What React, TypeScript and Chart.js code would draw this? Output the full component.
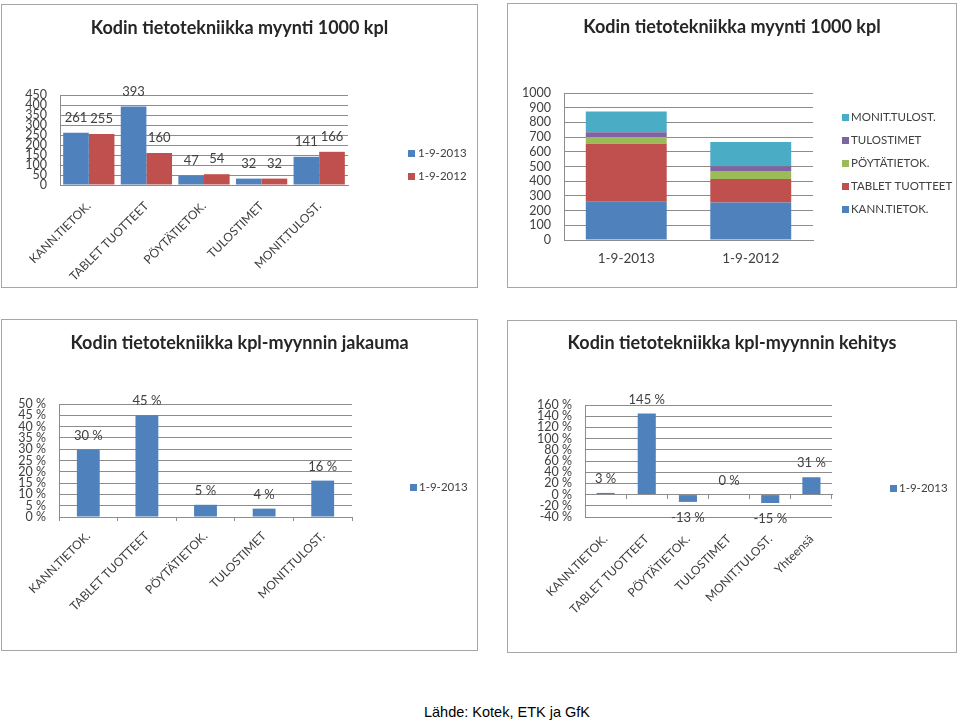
import React, { useEffect, useRef } from 'react';
import { Chart, registerables } from 'chart.js';

Chart.register(...registerables);

// ---------- data ----------
const categories = ['KANN.TIETOK.', 'TABLET TUOTTEET', 'PÖYTÄTIETOK.', 'TULOSTIMET', 'MONIT.TULOST.'];
const periods = ['1-9-2013', '1-9-2012'];
const sales2013 = [261, 393, 47, 32, 141];
const sales2012 = [255, 160, 54, 32, 166];
const shares2013 = [29.9, 45.0, 5.4, 3.7, 16.1];
const growthCategories = ['KANN.TIETOK.', 'TABLET TUOTTEET', 'PÖYTÄTIETOK.', 'TULOSTIMET', 'MONIT.TULOST.', 'Yhteensä'];
const growth2013 = [3, 145, -13, 0, -15, 31];

const salesTicks = [0, 50, 100, 150, 200, 250, 300, 350, 400, 450];
const stackTicks = [0, 100, 200, 300, 400, 500, 600, 700, 800, 900, 1000];
const shareTicks = [0, 5, 10, 15, 20, 25, 30, 35, 40, 45, 50];
const growthTicks = [-40, -20, 0, 20, 40, 60, 80, 100, 120, 140, 160];

const titleSales = 'Kodin tietotekniikka myynti 1000 kpl';
const titleShare = 'Kodin tietotekniikka kpl-myynnin jakauma';
const titleGrowth = 'Kodin tietotekniikka kpl-myynnin kehitys';
const sourceText = 'Lähde: Kotek, ETK ja GfK';

const palette = ['#4F81BD', '#C0504D', '#9BBB59', '#8064A2', '#4BACC6'];

// ---------- styling ----------
const FONT = 'Lato, "Open Sans", sans-serif';
const TEXT = '#404040';
const GRID = '#8c8c8c';

Chart.defaults.font.family = FONT;
Chart.defaults.color = TEXT;

// ---------- plugins ----------
const valueLabels = {
  id: 'valueLabels',
  afterDatasetsDraw(chart: any, _args: any, opts: any) {
    if (!opts || !opts.show) return;
    const ctx = chart.ctx;
    ctx.save();
    ctx.font = `${opts.size}px ${FONT}`;
    ctx.fillStyle = TEXT;
    ctx.textAlign = 'center';
    ctx.textBaseline = 'middle';
    chart.data.datasets.forEach((ds: any, di: number) => {
      const meta = chart.getDatasetMeta(di);
      meta.data.forEach((el: any, i: number) => {
        const v = ds.data[i];
        const txt = Math.round(v) + opts.suffix;
        const y = v >= 0 ? Math.min(el.y, el.base) - opts.above : Math.max(el.y, el.base) + opts.below;
        ctx.fillText(txt, el.x, y);
      });
    });
    ctx.restore();
  },
};

const sideLegend = {
  id: 'sideLegend',
  afterDraw(chart: any, _args: any, opts: any) {
    if (!opts || !opts.show) return;
    const ctx = chart.ctx;
    const items = chart.data.datasets.map((ds: any) => ({ text: ds.label, color: ds.backgroundColor }));
    if (opts.reverse) items.reverse();
    ctx.save();
    ctx.font = `${opts.size}px ${FONT}`;
    ctx.textAlign = 'left';
    ctx.textBaseline = 'middle';
    items.forEach((it: any, k: number) => {
      const cy = opts.y + k * opts.gap;
      ctx.fillStyle = it.color;
      ctx.fillRect(opts.x, Math.round(cy - opts.box / 2), opts.box, opts.box);
      ctx.fillStyle = TEXT;
      ctx.fillText(it.text, opts.textX, cy);
    });
    ctx.restore();
  },
};

// ---------- config builder ----------
type Geo = { w: number; h: number; left: number; right: number; top: number; bottom: number };

function buildConfig(p: {
  geo: Geo;
  title: string;
  titleY: number;
  labels: string[];
  datasets: any[];
  yTicks: number[];
  ySuffix: string;
  stacked?: boolean;
  rotate: number;
  xPad: number;
  xTickMarks: boolean;
  zeroAxis?: boolean;
  legend: any;
  values?: any;
}) {
  const { geo } = p;
  const lh = 18 * 1.2;
  const tTop = p.titleY - lh / 2;
  const scales: any = {
    x: {
      stacked: !!p.stacked,
      offset: true,
      afterFit: (s: any) => { s.height = geo.h - geo.bottom; },
      ticks: {
        autoSkip: false,
        minRotation: p.rotate,
        maxRotation: p.rotate,
        padding: p.xPad,
        font: { size: p.rotate ? 12 : 13.5 },
        color: TEXT,
      },
      grid: {
        offset: true,
        drawOnChartArea: false,
        drawTicks: p.xTickMarks,
        tickLength: 4,
        color: GRID,
      },
      border: { display: !p.zeroAxis, color: GRID },
    },
    y: {
      stacked: !!p.stacked,
      min: p.yTicks[0],
      max: p.yTicks[p.yTicks.length - 1],
      afterBuildTicks: (s: any) => { s.ticks = p.yTicks.map((v) => ({ value: v })); },
      afterFit: (s: any) => { s.width = geo.left; },
      ticks: {
        autoSkip: false,
        padding: 13,
        font: { size: 12.5 },
        color: TEXT,
        callback: (v: any) => v + p.ySuffix,
      },
      grid: { color: GRID, drawTicks: false },
      border: { color: GRID },
    },
    // empty space on the right that holds the legend, so the title stays centred on the box
    legendSpace: {
      type: 'linear',
      position: 'right',
      afterFit: (s: any) => { s.width = geo.w - geo.right; },
      ticks: { display: false },
      grid: { display: false },
      border: { display: false },
    },
  };
  if (p.zeroAxis) {
    scales.x0 = {
      type: 'category',
      position: { y: 0 },
      offset: true,
      ticks: { display: false },
      grid: { offset: true, drawOnChartArea: false, drawTicks: true, tickLength: 4, color: GRID },
      border: { display: true, color: GRID },
    };
  }
  return {
    type: 'bar',
    data: { labels: p.labels, datasets: p.datasets },
    plugins: [valueLabels, sideLegend],
    options: {
      responsive: false,
      animation: false,
      devicePixelRatio: 1,
      layout: { padding: 0 },
      scales,
      plugins: {
        legend: { display: false },
        tooltip: { enabled: false },
        title: {
          display: true,
          text: p.title,
          color: '#262626',
          font: { size: 18, weight: 'bold', lineHeight: 1.2 },
          padding: { top: tTop, bottom: geo.top - tTop - lh },
        },
        valueLabels: p.values || { show: false },
        sideLegend: p.legend,
      },
    },
  };
}

// ---------- chart configs ----------
const geo1: Geo = { w: 477, h: 284, left: 59, right: 347, top: 91, bottom: 181 };
const config1 = buildConfig({
  geo: geo1,
  title: titleSales,
  titleY: 24,
  labels: categories,
  datasets: [
    { label: periods[0], data: sales2013, backgroundColor: palette[0], categoryPercentage: 0.89, barPercentage: 1 },
    { label: periods[1], data: sales2012, backgroundColor: palette[1], categoryPercentage: 0.89, barPercentage: 1 },
  ],
  yTicks: salesTicks,
  ySuffix: '',
  rotate: 45,
  xPad: 14,
  xTickMarks: false,
  legend: { show: true, x: 407, textX: 417, y: 149, gap: 23, box: 7, size: 11.5 },
  values: { show: true, size: 13, suffix: '', above: 15, below: 15 },
});

const geo2: Geo = { w: 450, h: 285, left: 57, right: 306, top: 90, bottom: 237 };
const config2 = buildConfig({
  geo: geo2,
  title: titleSales,
  titleY: 24,
  labels: periods,
  datasets: categories.map((c, i) => ({
    label: c,
    data: [sales2013[i], sales2012[i]],
    backgroundColor: palette[i],
    categoryPercentage: 0.65,
    barPercentage: 1,
  })),
  yTicks: stackTicks,
  ySuffix: '',
  stacked: true,
  rotate: 0,
  xPad: 11,
  xTickMarks: false,
  legend: { show: true, reverse: true, x: 335, textX: 344, y: 114, gap: 23, box: 7, size: 11.5 },
});

const geo3: Geo = { w: 477, h: 332, left: 58, right: 351, top: 85, bottom: 198 };
const config3 = buildConfig({
  geo: geo3,
  title: titleShare,
  titleY: 24,
  labels: categories,
  datasets: [
    { label: periods[0], data: shares2013, backgroundColor: palette[0], categoryPercentage: 1, barPercentage: 0.39 },
  ],
  yTicks: shareTicks,
  ySuffix: ' %',
  rotate: 45,
  xPad: 8,
  xTickMarks: true,
  legend: { show: true, x: 409, textX: 418, y: 168, gap: 23, box: 7, size: 11.5 },
  values: { show: true, size: 13, suffix: ' %', above: 14, below: 16 },
});

const geo4: Geo = { w: 450, h: 333, left: 78, right: 325, top: 85, bottom: 197 };
const config4 = buildConfig({
  geo: geo4,
  title: titleGrowth,
  titleY: 23,
  labels: growthCategories,
  datasets: [
    { label: periods[0], data: growth2013, backgroundColor: palette[0], categoryPercentage: 1, barPercentage: 0.44 },
  ],
  yTicks: growthTicks,
  ySuffix: ' %',
  rotate: 45,
  xPad: 15,
  xTickMarks: false,
  zeroAxis: true,
  legend: { show: true, x: 383, textX: 392, y: 168, gap: 23, box: 7, size: 11.5 },
  values: { show: true, size: 13, suffix: ' %', above: 14, below: 16 },
});

// ---------- components ----------
function ChartBox(props: { left: number; top: number; width: number; height: number; config: any }) {
  const ref = useRef<HTMLCanvasElement | null>(null);
  useEffect(() => {
    const chart = new Chart(ref.current as HTMLCanvasElement, props.config);
    return () => chart.destroy();
  }, []);
  const { left, top, width, height } = props;
  return (
    <div style={{ position: 'absolute', left, top, width, height, background: '#fff' }}>
      <canvas ref={ref} width={width} height={height} style={{ position: 'absolute', left: 0, top: 0, width, height }} />
      <div
        style={{
          position: 'absolute',
          left: 0,
          top: 0,
          width,
          height,
          boxSizing: 'border-box',
          border: '1px solid #a6a6a6',
          pointerEvents: 'none',
        }}
      />
    </div>
  );
}

export default function App() {
  return (
    <div style={{ position: 'absolute', left: 0, top: 0, width: 959, height: 721, background: '#fff', overflow: 'hidden' }}>
      <ChartBox left={1} top={4} width={geo1.w} height={geo1.h} config={config1} />
      <ChartBox left={507} top={3} width={geo2.w} height={geo2.h} config={config2} />
      <ChartBox left={1} top={319} width={geo3.w} height={geo3.h} config={config3} />
      <ChartBox left={507} top={320} width={geo4.w} height={geo4.h} config={config4} />
      <div
        style={{
          position: 'absolute',
          left: 0,
          width: 1014,
          top: 702,
          textAlign: 'center',
          fontFamily: '"Liberation Sans", Arial, sans-serif',
          fontSize: 14.5,
          lineHeight: '20px',
          color: '#000',
        }}
      >
        {sourceText}
      </div>
    </div>
  );
}
